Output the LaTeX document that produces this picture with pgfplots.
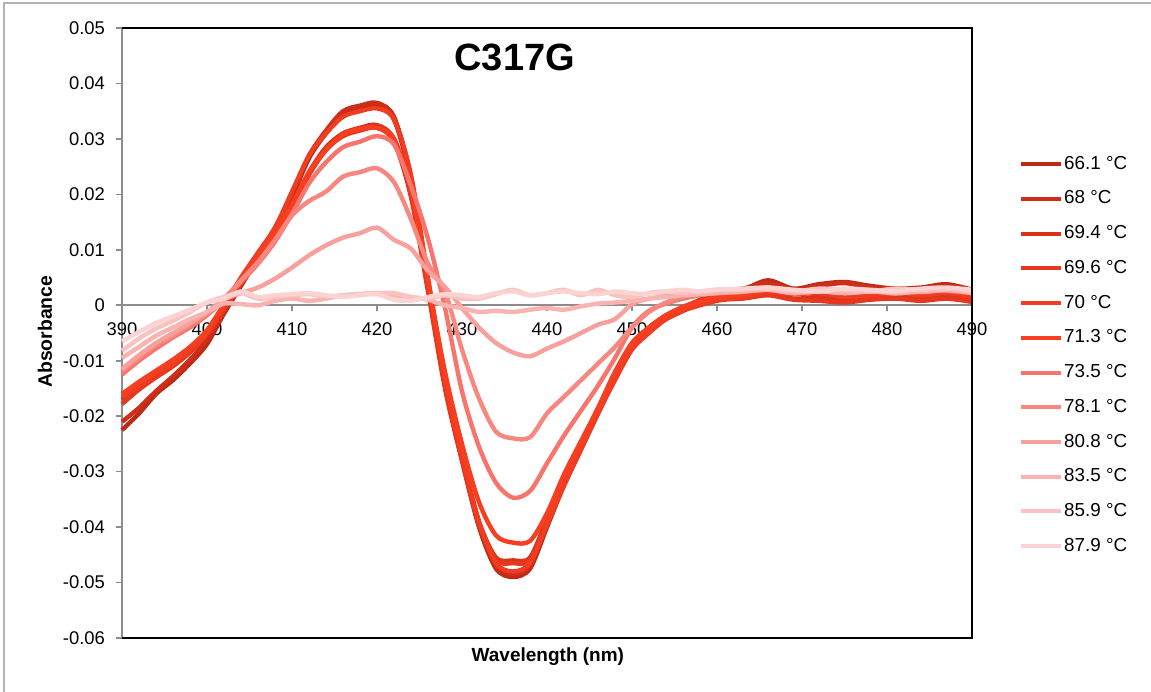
\documentclass[border=0pt]{standalone}
\usepackage{pgfplots}
\pgfplotsset{compat=1.18}
\usepackage{pgfplotstable}
\usepackage{fontspec}
\setmainfont{Liberation Sans}

\definecolor{c1}{HTML}{BE2A17}
\definecolor{c2}{HTML}{CC2E18}
\definecolor{c3}{HTML}{D9331C}
\definecolor{c4}{HTML}{E5381E}
\definecolor{c5}{HTML}{F03D21}
\definecolor{c6}{HTML}{F73E20}
\definecolor{c7}{HTML}{F7756C}
\definecolor{c8}{HTML}{F7877F}
\definecolor{c9}{HTML}{F8A09C}
\definecolor{c10}{HTML}{F9B3B0}
\definecolor{c11}{HTML}{FAC3C1}
\definecolor{c12}{HTML}{FBD3D2}
\definecolor{axgray}{HTML}{8C8C8C}

\pgfplotstableread{
x s1 s2 s3 s4 s5 s6 s7 s8 s9 s10 s11 s12
390 -0.0225 -0.021 -0.017 -0.0178 -0.0165 -0.016 -0.0125 -0.0118 -0.0115 -0.0095 -0.0082 -0.0065
392 -0.0195 -0.0185 -0.0148 -0.0152 -0.0145 -0.0138 -0.010 -0.0095 -0.009 -0.0075 -0.006 -0.0048
394 -0.016 -0.0155 -0.0125 -0.013 -0.0122 -0.0118 -0.0078 -0.0072 -0.0068 -0.0055 -0.0042 -0.0032
396 -0.0135 -0.0128 -0.0108 -0.011 -0.0105 -0.0098 -0.0058 -0.0055 -0.005 -0.004 -0.0028 -0.002
398 -0.0105 -0.0098 -0.0082 -0.0085 -0.008 -0.0075 -0.004 -0.0035 -0.0032 -0.0025 -0.0012 -0.0008
400 -0.007 -0.0062 -0.005 -0.0052 -0.0048 -0.0045 -0.0018 -0.0015 -0.0012 -0.0012 0.0005 0.0005
402 -0.0015 -0.001 -0.0005 -0.0008 0.0 0.0002 0.001 0.0012 0.001 0.0003 0.0015 0.0012
404 0.0035 0.004 0.0045 0.004 0.005 0.0048 0.0042 0.0045 0.0022 0.0002 0.0022 0.0025
406 0.0085 0.009 0.0085 0.008 0.0095 0.0088 0.0075 0.0078 0.0032 0.0 0.0012 0.0015
408 0.0135 0.014 0.013 0.0125 0.014 0.013 0.0115 0.0118 0.0048 0.0008 0.0015 0.0018
410 0.0195 0.020 0.018 0.0175 0.0205 0.0182 0.0165 0.0162 0.0068 0.0012 0.0018 0.002
412 0.0265 0.027 0.024 0.0235 0.027 0.024 0.022 0.0188 0.009 0.0008 0.002 0.0022
414 0.031 0.0315 0.0285 0.028 0.031 0.028 0.0258 0.0205 0.0108 0.0012 0.0016 0.0018
416 0.0345 0.035 0.031 0.0305 0.034 0.0308 0.0285 0.0232 0.0122 0.0018 0.0018 0.0015
418 0.0355 0.036 0.032 0.0315 0.035 0.0318 0.0295 0.024 0.013 0.002 0.002 0.0018
420 0.036 0.0365 0.0325 0.032 0.0355 0.032 0.0305 0.0247 0.014 0.0022 0.0022 0.002
422 0.0335 0.034 0.030 0.0295 0.0335 0.030 0.029 0.0222 0.0118 0.0018 0.0022 0.001
424 0.0225 0.023 0.020 0.0195 0.0235 0.021 0.0215 0.0155 0.0102 0.0015 0.0015 0.0008
426 0.004 0.0045 0.003 0.0025 0.005 0.0045 0.012 0.0075 0.0062 0.001 0.0012 0.0015
428 -0.0145 -0.014 -0.0145 -0.015 -0.0135 -0.012 -0.0005 0.0025 0.0033 0.0 0.0018 0.002
430 -0.028 -0.0275 -0.0275 -0.028 -0.027 -0.025 -0.0155 -0.008 -0.0005 -0.0005 0.0012 0.0018
432 -0.040 -0.0395 -0.039 -0.0395 -0.039 -0.0355 -0.0255 -0.0168 -0.004 -0.0012 0.0012 0.0015
434 -0.0475 -0.047 -0.0455 -0.046 -0.0465 -0.0415 -0.032 -0.0228 -0.0068 -0.001 0.002 0.0022
436 -0.049 -0.0485 -0.046 -0.0465 -0.048 -0.0428 -0.0347 -0.024 -0.0085 -0.0012 0.0028 0.0025
438 -0.0475 -0.047 -0.0455 -0.046 -0.0465 -0.0425 -0.0335 -0.0238 -0.0092 -0.0008 0.0018 0.0018
440 -0.040 -0.0395 -0.0385 -0.039 -0.0395 -0.0375 -0.0285 -0.0195 -0.0078 -0.0005 0.0022 0.0022
442 -0.0325 -0.032 -0.0315 -0.032 -0.0325 -0.0305 -0.0235 -0.0165 -0.0065 -0.0008 0.0028 0.0025
444 -0.026 -0.0255 -0.025 -0.0255 -0.026 -0.0245 -0.019 -0.0135 -0.005 -0.0002 0.0018 0.0022
446 -0.0195 -0.019 -0.019 -0.0195 -0.0195 -0.0185 -0.0145 -0.0105 -0.0035 0.0003 0.0028 0.002
448 -0.013 -0.0125 -0.0125 -0.013 -0.0135 -0.012 -0.0095 -0.0075 -0.0025 0.0005 0.0018 0.0025
450 -0.0075 -0.007 -0.007 -0.0075 -0.008 -0.0068 -0.004 -0.004 0.0002 0.0008 0.0015 0.0022
452 -0.0045 -0.004 -0.004 -0.0045 -0.005 -0.004 -0.001 -0.0012 0.0012 0.0012 0.0022 0.002
454 -0.0025 -0.002 -0.0018 -0.002 -0.0025 -0.0018 0.0003 0.0005 0.0018 0.0015 0.0025 0.0025
456 -0.001 -0.0005 -0.0003 -0.0005 -0.001 -0.0003 0.0012 0.0015 0.002 0.0018 0.0022 0.0028
458 0.0005 0.001 0.0008 0.0005 0.0 0.0007 0.0018 0.002 0.0022 0.002 0.0025 0.0025
460 0.002 0.0025 0.0012 0.001 0.0008 0.0015 0.0022 0.0022 0.0025 0.0022 0.0028 0.0028
463 0.0028 0.003 0.0015 0.0012 0.0015 0.002 0.0025 0.0024 0.0026 0.0025 0.0028 0.003
466 0.0045 0.004 0.0022 0.0018 0.0025 0.0028 0.003 0.0028 0.003 0.0028 0.003 0.0032
469 0.003 0.0028 0.0012 0.001 0.002 0.0022 0.0024 0.0022 0.0024 0.0022 0.0025 0.0028
472 0.0038 0.0035 0.0015 0.0008 0.0022 0.0025 0.0026 0.0025 0.0026 0.0025 0.003 0.0025
475 0.0042 0.004 0.001 0.0005 0.0015 0.0028 0.0028 0.0024 0.0022 0.0022 0.0028 0.003
478 0.0035 0.0032 0.0012 0.001 0.0018 0.0022 0.0025 0.0026 0.0025 0.0025 0.0025 0.0028
481 0.003 0.003 0.0014 0.0012 0.0022 0.0025 0.0024 0.0022 0.0026 0.0022 0.003 0.0025
484 0.0032 0.0028 0.0012 0.0008 0.0018 0.0028 0.0028 0.0025 0.0024 0.0025 0.0028 0.003
487 0.0038 0.0035 0.0015 0.0012 0.0022 0.0025 0.0026 0.0028 0.0027 0.0028 0.003 0.0032
490 0.0028 0.0025 0.001 0.0006 0.0015 0.0022 0.0022 0.0024 0.0025 0.0022 0.0025 0.0028
}\spectra

\begin{document}
\begin{tikzpicture}
\useasboundingbox (-61pt,-26.5pt) rectangle (514.5pt,319pt);
\draw[color=black!30, line width=1pt] (-58.75pt,-30pt) -- (-58.75pt,317.5pt) -- (520pt,317.5pt);
\begin{axis}[
  at={(0pt,0pt)}, anchor=south west,
  scale only axis, width=425pt, height=305pt,
  xmin=390, xmax=490, ymin=-0.06, ymax=0.05,
  axis x line=middle, axis y line=left,
  axis line style={-, axgray, line width=0.8pt},
  hide obscured x ticks=false,
  scaled y ticks=false, scaled x ticks=false,
  xtick={390,400,410,420,430,440,450,460,470,480,490},
  xticklabels={390,400,410,420,430,440,450,460,470,480,490},
  ytick={-0.06,-0.05,-0.04,-0.03,-0.02,-0.01,0,0.01,0.02,0.03,0.04,0.05},
  yticklabels={-0.06,-0.05,-0.04,-0.03,-0.02,-0.01,0,0.01,0.02,0.03,0.04,0.05},
  tick align=outside,
  tick style={axgray, line width=0.8pt},
  major tick length=3pt,
  ticklabel style={font=\fontsize{9.2}{10}\selectfont},
  xticklabel style={yshift=-2pt},
  yticklabel style={xshift=-2pt},
  xlabel={Wavelength (nm)},
  ylabel={Absorbance},
  xlabel style={font=\bfseries\fontsize{9.5}{11}\selectfont, at={(axis description cs:0.501,-0.031)}, anchor=center},
  ylabel style={font=\bfseries\fontsize{9.7}{11}\selectfont, at={(axis description cs:-0.0906,0.502)}, anchor=center, rotate=0},
  every axis plot/.append style={line width=2.2pt, smooth, tension=0.5},
  legend image code/.code={\draw[#1, line width=2pt, smooth=false] (0pt,0pt) -- (20pt,0pt);},
  legend cell align=left,
  legend style={draw=none, fill=none, inner sep=0pt,
    at={(axis description cs:1.0553,0.792)}, anchor=north west,
    font=\fontsize{9.4}{10}\selectfont, row sep=8.5pt,
    nodes={inner sep=0.4pt}},
  clip=false,
]
\addplot[c1] table[x=x, y=s1] {\spectra};
\addlegendentry{66.1 °C}
\addplot[c2] table[x=x, y=s2] {\spectra};
\addlegendentry{68 °C}
\addplot[c3] table[x=x, y=s3] {\spectra};
\addlegendentry{69.4 °C}
\addplot[c4] table[x=x, y=s4] {\spectra};
\addlegendentry{69.6 °C}
\addplot[c5] table[x=x, y=s5] {\spectra};
\addlegendentry{70 °C}
\addplot[c6] table[x=x, y=s6] {\spectra};
\addlegendentry{71.3 °C}
\addplot[c7] table[x=x, y=s7] {\spectra};
\addlegendentry{73.5 °C}
\addplot[c8] table[x=x, y=s8] {\spectra};
\addlegendentry{78.1 °C}
\addplot[c9] table[x=x, y=s9] {\spectra};
\addlegendentry{80.8 °C}
\addplot[c10] table[x=x, y=s10] {\spectra};
\addlegendentry{83.5 °C}
\addplot[c11] table[x=x, y=s11] {\spectra};
\addlegendentry{85.9 °C}
\addplot[c12] table[x=x, y=s12] {\spectra};
\addlegendentry{87.9 °C}
\draw[black, line width=0.9pt] (rel axis cs:0,0) -- (rel axis cs:1,0) -- (rel axis cs:1,1) -- (rel axis cs:0,1);
\node[font=\bfseries\fontsize{19}{22}\selectfont] at (rel axis cs:0.462,0.951) {C317G};
\end{axis}
\end{tikzpicture}
\end{document}
